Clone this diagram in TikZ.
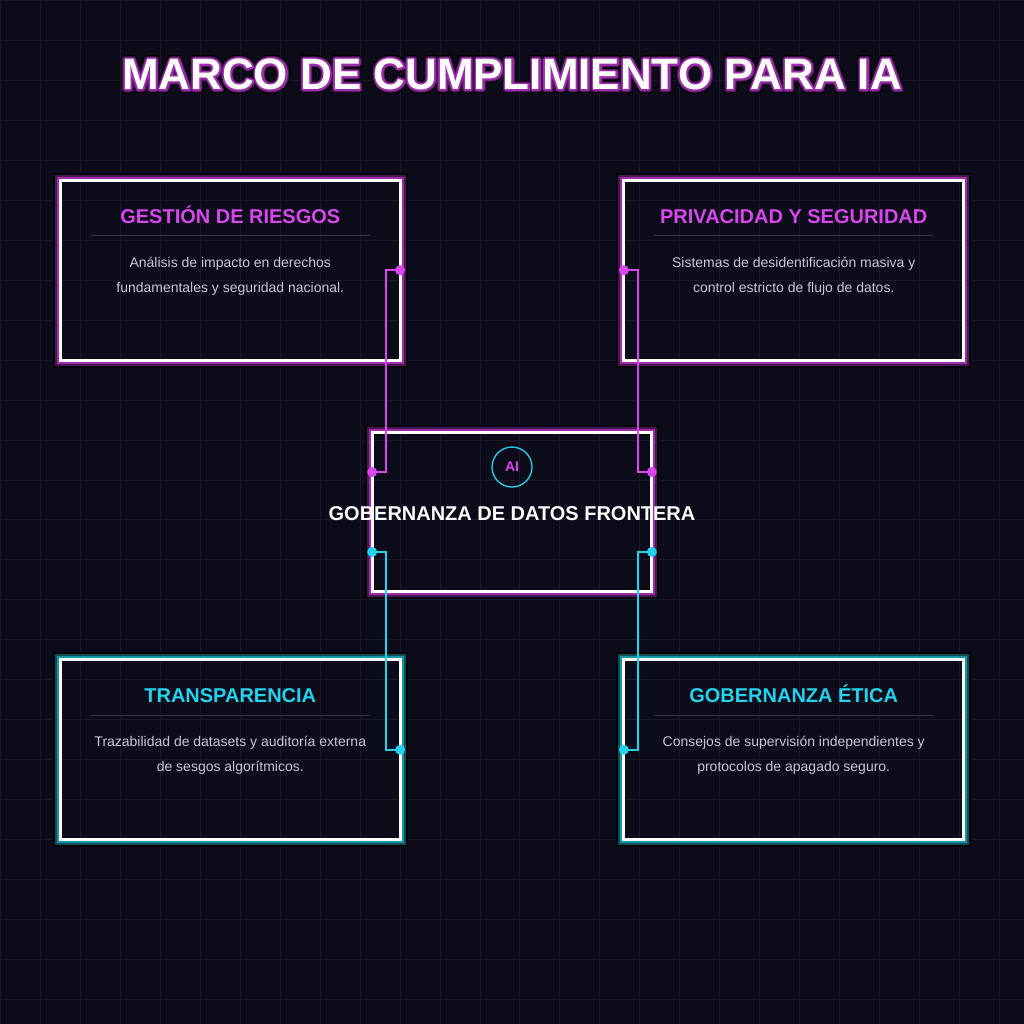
\documentclass[tikz,border=0pt]{standalone}
\usepackage{fontspec}
\setmainfont{Liberation Sans}
\newfontfamily\glowouter[FakeBold=18]{Liberation Sans Bold}
\newfontfamily\glowmid[FakeBold=13]{Liberation Sans Bold}
\newfontfamily\glowinner[FakeBold=8]{Liberation Sans Bold}
\usetikzlibrary{positioning}
\definecolor{bg}{HTML}{0B0B1A}
\definecolor{gridc}{HTML}{191929}
\definecolor{neon}{HTML}{D946EF}
\definecolor{neonmid}{HTML}{9C2DAA}
\definecolor{neondark}{HTML}{4A1656}
\definecolor{aqua}{HTML}{22D3EE}
\definecolor{aquamid}{HTML}{1597A8}
\definecolor{aquadark}{HTML}{0C4E57}
\definecolor{bodytext}{HTML}{C8C8D6}
\definecolor{rulec}{HTML}{33334A}
\tikzset{
  every node/.style={
    text=white, inner sep=0pt
  },
  panel/.style={draw=white, line width=3pt, outer sep=0pt,
    minimum width=340pt, minimum height=180pt},
  titletext/.style={anchor=base, line join=round, font=\fontsize{44}{50}\selectfont\bfseries},
  head/.style={anchor=base, font=\fontsize{20}{24}\selectfont\bfseries},
  body/.style={align=center, text=bodytext, font=\fontsize{14}{25}\selectfont},
  wire/.style={line width=1.5pt}
}
\newcommand\titlewords{MARCO DE CUMPLIMIENTO PARA IA}
% glow rings round a panel: node, mid colour, dark colour
\newcommand\glowframe[3]{%
  \draw[black, line width=2pt] ([xshift=-6.5pt,yshift=6.5pt]#1.north west) rectangle ([xshift=6.5pt,yshift=-6.5pt]#1.south east);
  \draw[#3, line width=2pt] ([xshift=-4.5pt,yshift=4.5pt]#1.north west) rectangle ([xshift=4.5pt,yshift=-4.5pt]#1.south east);
  \draw[#2, line width=2pt] ([xshift=-2.5pt,yshift=2.5pt]#1.north west) rectangle ([xshift=2.5pt,yshift=-2.5pt]#1.south east);
}

\begin{document}
\begin{tikzpicture}[x=1pt,y=-1pt]
    \fill[bg] (0,0) rectangle (1024,1024);
    \draw[gridc, line width=1pt, step=40pt] (0,0) grid (1024,1024);
    \useasboundingbox (0,0) rectangle (1024,1024);

    % title, stroked glow layers under the white letters
    \node[titletext] (title) at (512,89) {\pgfsetroundjoin
      \rlap{\color{black}\glowouter\titlewords}%
      \rlap{\color{neondark}\glowmid\titlewords}%
      \rlap{\color{neonmid}\glowinner\titlewords}%
      \titlewords};

    % panels
    \node[panel] (risk) at (230,270) {};
    \node[panel] (privacy) at (794,270) {};
    \node[panel] (transp) at (230,750) {};
    \node[panel] (ethics) at (794,750) {};
    \node[panel, minimum width=280pt, minimum height=160pt] (core) at (512,512) {};
    \glowframe{risk}{neonmid}{neondark}
    \glowframe{privacy}{neonmid}{neondark}
    \glowframe{core}{neonmid}{neondark}
    \glowframe{transp}{aquamid}{aquadark}
    \glowframe{ethics}{aquamid}{aquadark}

    \node[head, text=neon] (riskhead) at ([yshift=-43pt]risk.north) {GESTIÓN DE RIESGOS};
    \draw[rulec] ([xshift=-140pt,yshift=-55pt]risk.north) -- ([xshift=140pt,yshift=-55pt]risk.north);
    \node[body] (riskbody) at ([yshift=-96pt]risk.north) {Análisis de impacto en derechos\\fundamentales y seguridad nacional.};

    \node[head, text=neon] (privhead) at ([yshift=-43pt]privacy.north) {PRIVACIDAD Y SEGURIDAD};
    \draw[rulec] ([xshift=-140pt,yshift=-55pt]privacy.north) -- ([xshift=140pt,yshift=-55pt]privacy.north);
    \node[body] (privbody) at ([yshift=-96pt]privacy.north) {Sistemas de desidentificación masiva y\\control estricto de flujo de datos.};

    \node[head, text=aqua] (transphead) at ([yshift=-43pt]transp.north) {TRANSPARENCIA};
    \draw[rulec] ([xshift=-140pt,yshift=-55pt]transp.north) -- ([xshift=140pt,yshift=-55pt]transp.north);
    \node[body] (transpbody) at ([yshift=-96pt]transp.north) {Trazabilidad de datasets y auditoría externa\\de sesgos algorítmicos.};

    \node[head, text=aqua] (ethichead) at ([yshift=-43pt]ethics.north) {GOBERNANZA ÉTICA};
    \draw[rulec] ([xshift=-140pt,yshift=-55pt]ethics.north) -- ([xshift=140pt,yshift=-55pt]ethics.north);
    \node[body] (ethicbody) at ([yshift=-96pt]ethics.north) {Consejos de supervisión independientes y\\protocolos de apagado seguro.};

    % core
    \node[circle, draw=aqua, line width=1.3pt, minimum size=40pt, text=neon,
      font=\fontsize{14}{16}\selectfont\bfseries] (badge) at (512,467) {AI};
    \node[head] (corehead) at (512,521) {GOBERNANZA DE DATOS FRONTERA};

    % connectors
    \coordinate (coreNW) at ([yshift=40pt]core.west);
    \coordinate (coreSW) at ([yshift=-40pt]core.west);
    \coordinate (coreNE) at ([yshift=40pt]core.east);
    \coordinate (coreSE) at ([yshift=-40pt]core.east);
    \draw[wire, neon] (risk.east) -- ++(-14,0) |- (coreNW);
    \draw[wire, neon] (privacy.west) -- ++(14,0) |- (coreNE);
    \draw[wire, aqua] (coreSW) -- ++(14,0) |- (transp.east);
    \draw[wire, aqua] (coreSE) -- ++(-14,0) |- (ethics.west);
    \fill[neon] (risk.east) circle (5pt) (coreNW) circle (5pt)
      (privacy.west) circle (5pt) (coreNE) circle (5pt);
    \fill[aqua] (transp.east) circle (5pt) (coreSW) circle (5pt)
      (ethics.west) circle (5pt) (coreSE) circle (5pt);
\end{tikzpicture}
\end{document}
